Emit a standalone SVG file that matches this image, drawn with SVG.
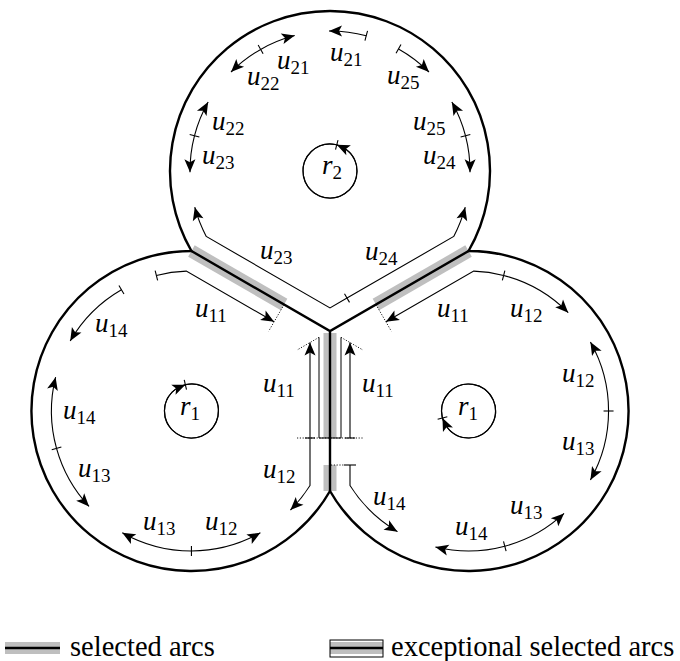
<svg xmlns="http://www.w3.org/2000/svg" width="680" height="661" viewBox="0 0 680 661">
<style>
.bd{fill:none;stroke:#000;stroke-width:2.4;stroke-linejoin:miter}
.gr{stroke:#bfbfbf;stroke-width:13;stroke-linecap:butt}
.a{fill:none;stroke:#000;stroke-width:1.1;marker-end:url(#ah)}
.t{stroke:#000;stroke-width:1.1}
.th{fill:none;stroke:#000;stroke-width:1}
.dt{stroke:#000;stroke-width:0.9;stroke-dasharray:1.2 1.6}
.sc{fill:none;stroke:#000;stroke-width:1.2}
.lb{font-family:"Liberation Serif","DejaVu Serif",serif;font-size:27px;font-style:italic;fill:#000}
.sb{font-size:19px;font-style:normal}
.lg{font-family:"Liberation Serif","DejaVu Serif",serif;font-size:28.5px;fill:#000}
</style>
<defs>
<marker id="ah" viewBox="-14 -7 15 14" refX="0" refY="0" markerWidth="15" markerHeight="14" markerUnits="userSpaceOnUse" orient="auto">
<path d="M0,0 L-13,-5.5 L-10,0 L-13,5.5 Z" fill="#000"/>
</marker>
</defs>
<rect width="680" height="661" fill="#fff"/>

<g id="selected-bands">
<line class="gr" x1="191.44" y1="251" x2="284.1" y2="304.5"/>
<line class="gr" x1="468.56" y1="251" x2="375.9" y2="304.5"/>
<line class="gr" x1="330" y1="333" x2="330" y2="438"/>
<line class="gr" x1="330" y1="465" x2="330" y2="491"/>
</g>

<g id="outline">
<path class="bd" d="M191.44,251 A160,160 0 1,1 468.56,251 A160,160 0 1,1 330,491 A160,160 0 1,1 191.44,251 Z"/>
<path class="bd" d="M191.44,251 L330,331 L468.56,251 M330,331 V491"/>
</g>

<g id="connectors">
<line class="dt" x1="284.1" y1="304.5" x2="268.6" y2="331.3"/>
<line class="dt" x1="375.9" y1="304.5" x2="391.4" y2="331.3"/>
<line class="dt" x1="319" y1="337.35" x2="297" y2="350.05"/>
<line class="dt" x1="341" y1="337.35" x2="363" y2="350.05"/>
<line class="dt" x1="297" y1="438" x2="363" y2="438"/>
<line class="dt" x1="331" y1="465" x2="344" y2="465"/>
<path class="th" d="M319,337.35 V438 H341 V337.35"/>

<path class="a" d="M366.23,35.77 A140,140 0 0,0 329.02,31.0"/>
<path class="a" d="M260.63,49.40 A140,140 0 0,1 294.71,35.52"/>
<path class="a" d="M260.63,49.40 A140,140 0 0,0 231.01,72.0"/>
<path class="a" d="M398.52,48.91 A140,140 0 0,1 428.99,72.0"/>
<path class="a" d="M194.52,135.71 A140,140 0 0,1 208.14,102.06"/>
<path class="a" d="M194.52,135.71 A140,140 0 0,0 190.0,172.22"/>
<path class="a" d="M465.48,135.71 A140,140 0 0,0 451.86,102.06"/>
<path class="a" d="M465.48,135.71 A140,140 0 0,1 470.0,172.22"/>
<path class="a" d="M347,298.1 L330,307.9 L206.26,236.46 A140,140 0 0,1 194.77,207.23"/>
<path class="a" d="M347,298.1 L453.74,236.46 A140,140 0 0,0 465.23,207.23"/>

<path class="a" d="M156.38,275.47 A140,140 0 0,1 186.28,271.12 L274.1,321.82"/>
<path class="a" d="M121.44,289.76 A140,140 0 0,0 70.2,341.0"/>
<path class="a" d="M56.53,448.41 A140,140 0 0,1 55.6,377.13"/>
<path class="a" d="M56.53,448.41 A140,140 0 0,0 89.05,506.48"/>
<path class="a" d="M191.44,551 A140,140 0 0,1 122.29,532.73"/>
<path class="a" d="M191.44,551 A140,140 0 0,0 260.38,532.85"/>
<path class="a" d="M310,438 V485.45 A140,140 0 0,1 290.43,509.99"/>
<path class="a" d="M310,438 V342.55"/>

<path class="a" d="M503.62,275.47 A140,140 0 0,0 473.72,271.12 L385.9,321.82"/>
<path class="a" d="M503.62,275.47 A140,140 0 0,1 568.24,312.69"/>
<path class="a" d="M608.56,411 A140,140 0 0,0 590.42,342.06"/>
<path class="a" d="M608.56,411 A140,140 0 0,1 590.42,479.94"/>
<path class="a" d="M504.79,546.23 A140,140 0 0,1 435.41,547.01"/>
<path class="a" d="M504.79,546.23 A140,140 0 0,0 564.04,513.39"/>
<path class="a" d="M350,465 V485.45 A140,140 0 0,0 397.51,531.63"/>
<path class="a" d="M350,438 V342.55"/>

<line class="t" x1="364.94" y1="40.60" x2="367.53" y2="30.94"/>
<line class="t" x1="263.11" y1="53.74" x2="258.15" y2="45.05"/>
<line class="t" x1="396.07" y1="53.27" x2="400.96" y2="44.55"/>
<line class="t" x1="199.36" y1="136.97" x2="189.68" y2="134.45"/>
<line class="t" x1="460.64" y1="136.97" x2="470.32" y2="134.45"/>
<line class="t" x1="344.5" y1="293.8" x2="349.5" y2="302.4"/>
<line class="t" x1="157.64" y1="280.31" x2="155.13" y2="270.63"/>
<line class="t" x1="123.94" y1="294.09" x2="118.94" y2="285.43"/>
<line class="t" x1="61.35" y1="447.07" x2="51.72" y2="449.74"/>
<line class="t" x1="191.44" y1="546" x2="191.44" y2="556"/>
<line class="t" x1="502.36" y1="280.31" x2="504.87" y2="270.63"/>
<line class="t" x1="603.56" y1="411" x2="613.56" y2="411"/>
<line class="t" x1="503.50" y1="541.40" x2="506.09" y2="551.06"/>
<line class="t" x1="305" y1="438" x2="315" y2="438"/>
<line class="t" x1="345" y1="438" x2="355" y2="438"/>
<line class="t" x1="344" y1="465" x2="356" y2="465"/>
</g>

<g id="node-r2">
<circle class="sc" cx="330" cy="171" r="27"/>
<path class="a" d="M336.30,144.74 A27,27 0 1,0 345.29,148.75 L336.76,144.86"/>
<line class="t" x1="335.51" y1="149.70" x2="338.01" y2="140.02"/>
<text class="lb" x="322" y="174">r<tspan class="sb" dy="5">2</tspan></text>
</g>
<g id="node-r1-left">
<circle class="sc" cx="191.44" cy="411" r="27"/>
<path class="a" d="M185.83,384.59 A27,27 0 1,1 176.74,388.36 L185.37,384.69"/>
<line class="t" x1="186.49" y1="389.56" x2="184.24" y2="379.82"/>
<text class="lb" x="180" y="415">r<tspan class="sb" dy="5">1</tspan></text>
</g>
<g id="node-r1-right">
<circle class="sc" cx="468.56" cy="411" r="27"/>
<path class="a" d="M442.36,417.53 A27,27 0 1,1 446.44,426.49 L442.48,417.99"/>
<line class="t" x1="447.31" y1="416.69" x2="437.65" y2="419.28"/>
<text class="lb" x="458" y="415">r<tspan class="sb" dy="5">1</tspan></text>
</g>

<g id="labels">
<text class="lb" x="330" y="61">u<tspan class="sb" dy="5">21</tspan></text>
<text class="lb" x="277" y="69">u<tspan class="sb" dy="5">21</tspan></text>
<text class="lb" x="247" y="85">u<tspan class="sb" dy="5">22</tspan></text>
<text class="lb" x="387" y="84">u<tspan class="sb" dy="5">25</tspan></text>
<text class="lb" x="212" y="130">u<tspan class="sb" dy="5">22</tspan></text>
<text class="lb" x="202" y="164">u<tspan class="sb" dy="5">23</tspan></text>
<text class="lb" x="413" y="130">u<tspan class="sb" dy="5">25</tspan></text>
<text class="lb" x="423" y="164">u<tspan class="sb" dy="5">24</tspan></text>
<text class="lb" x="260" y="259">u<tspan class="sb" dy="5">23</tspan></text>
<text class="lb" x="365" y="260">u<tspan class="sb" dy="5">24</tspan></text>

<text class="lb" x="195" y="317">u<tspan class="sb" dy="5">11</tspan></text>
<text class="lb" x="95" y="332">u<tspan class="sb" dy="5">14</tspan></text>
<text class="lb" x="63" y="419">u<tspan class="sb" dy="5">14</tspan></text>
<text class="lb" x="78" y="477">u<tspan class="sb" dy="5">13</tspan></text>
<text class="lb" x="263" y="392">u<tspan class="sb" dy="5">11</tspan></text>
<text class="lb" x="263" y="478">u<tspan class="sb" dy="5">12</tspan></text>
<text class="lb" x="143" y="530">u<tspan class="sb" dy="5">13</tspan></text>
<text class="lb" x="205" y="530">u<tspan class="sb" dy="5">12</tspan></text>

<text class="lb" x="437" y="317">u<tspan class="sb" dy="5">11</tspan></text>
<text class="lb" x="510" y="317">u<tspan class="sb" dy="5">12</tspan></text>
<text class="lb" x="362" y="392">u<tspan class="sb" dy="5">11</tspan></text>
<text class="lb" x="562" y="382">u<tspan class="sb" dy="5">12</tspan></text>
<text class="lb" x="562" y="450">u<tspan class="sb" dy="5">13</tspan></text>
<text class="lb" x="373" y="505">u<tspan class="sb" dy="5">14</tspan></text>
<text class="lb" x="455" y="535">u<tspan class="sb" dy="5">14</tspan></text>
<text class="lb" x="510" y="514">u<tspan class="sb" dy="5">13</tspan></text>
</g>

<g id="legend">
<line class="gr" x1="5" y1="648" x2="60" y2="648" style="stroke-width:12"/>
<line x1="5" y1="648" x2="60" y2="648" stroke="#000" stroke-width="2.4"/>
<text class="lg" x="70" y="656">selected arcs</text>
<line class="gr" x1="330" y1="648" x2="383" y2="648" style="stroke-width:12"/>
<line x1="330" y1="648" x2="383" y2="648" stroke="#000" stroke-width="2.4"/>
<rect class="th" x="330" y="640" width="53" height="17"/>
<text class="lg" x="391" y="656">exceptional selected arcs</text>
</g>
</svg>
